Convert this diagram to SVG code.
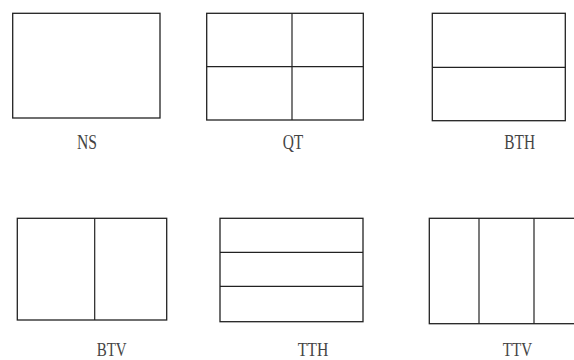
<svg xmlns="http://www.w3.org/2000/svg" width="574" height="360" viewBox="0 0 574 360">
<style>
.b{fill:none;stroke:#222;stroke-width:1.3}
.l{stroke:#222;stroke-width:1.2}
.t{font-family:"Liberation Serif",serif;font-size:20px;fill:#444;text-anchor:middle}
.u{font-size:18px}
</style>
<rect width="574" height="360" fill="#fff"/>
<g id="NS">
<rect class="b" x="12.7" y="13.3" width="147.3" height="104.7"/>
<text class="t" x="87" y="149" textLength="20" lengthAdjust="spacingAndGlyphs">NS</text>
</g>
<g id="QT">
<rect class="b" x="206.7" y="13.3" width="156.6" height="106.7"/>
<line class="l" x1="292" y1="13.3" x2="292" y2="120"/>
<line class="l" x1="206.7" y1="66.7" x2="363.3" y2="66.7"/>
<text class="t" x="293" y="149" textLength="20.6" lengthAdjust="spacingAndGlyphs">QT</text>
</g>
<g id="BTH">
<rect class="b" x="432.3" y="13.3" width="133" height="107.4"/>
<line class="l" x1="432.3" y1="67.3" x2="565.3" y2="67.3"/>
<text class="t" x="519.7" y="149" textLength="30.7" lengthAdjust="spacingAndGlyphs">BTH</text>
</g>
<g id="BTV">
<rect class="b" x="17.3" y="218.3" width="149.4" height="101.7"/>
<line class="l" x1="94.7" y1="218.3" x2="94.7" y2="320"/>
<text class="t u" x="111.7" y="356" textLength="30" lengthAdjust="spacingAndGlyphs">BTV</text>
</g>
<g id="TTH">
<rect class="b" x="220" y="218.3" width="143" height="103.4"/>
<line class="l" x1="220" y1="252.3" x2="363" y2="252.3"/>
<line class="l" x1="220" y1="286.3" x2="363" y2="286.3"/>
<text class="t u" x="313" y="356" textLength="30.6" lengthAdjust="spacingAndGlyphs">TTH</text>
</g>
<g id="TTV">
<rect class="b" x="429.3" y="218.3" width="160" height="105.4"/>
<line class="l" x1="479" y1="218.3" x2="479" y2="323.7"/>
<line class="l" x1="534" y1="218.3" x2="534" y2="323.7"/>
<text class="t u" x="517.4" y="356" textLength="29.3" lengthAdjust="spacingAndGlyphs">TTV</text>
</g>
<g id="connectors"/>
</svg>
